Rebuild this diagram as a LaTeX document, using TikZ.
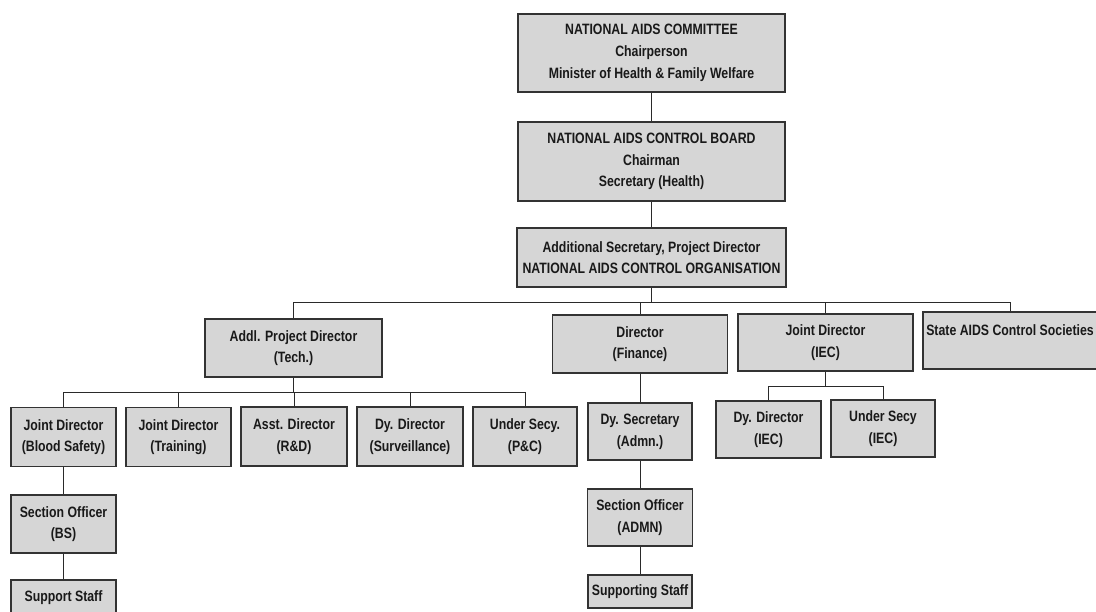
\documentclass[tikz,border=0pt]{standalone}
\usepackage{fontspec}
\setmainfont{Liberation Sans}[FakeStretch=0.82]
\definecolor{boxfill}{HTML}{D6D6D6}
\definecolor{boxline}{HTML}{333333}
\definecolor{linkcol}{HTML}{2A2A2A}
\tikzset{
  orgbox/.style={draw=boxline, line width=1.1pt, fill=boxfill, inner sep=0pt,
    align=center, font=\fontsize{15}{21.7}\selectfont\bfseries, text=black!90},
  link/.style={draw=linkcol, line width=0.9pt}
}
\begin{document}
\begin{tikzpicture}[x=1pt,y=-1pt]
\clip (0,0) rectangle (1096,611);
\fill[white] (0,0) rectangle (1096,611);
% top chain
\node[orgbox, minimum width=267, minimum height=78] (nac) at (651.5,53)
  {NATIONAL AIDS COMMITTEE\\Chairperson\\Minister of Health \& Family Welfare};
\node[orgbox, minimum width=267, minimum height=79] (nacb) at (651.5,161.5)
  {NATIONAL AIDS CONTROL BOARD\\Chairman\\Secretary (Health)};
\node[orgbox, minimum width=269, minimum height=59] (naco) at (651.5,257.5)
  {Additional Secretary, Project Director\\NATIONAL AIDS CONTROL ORGANISATION};
% second level
\node[orgbox, minimum width=177, minimum height=58] (apd) at (293.5,348)
  {Addl. Project Director\\(Tech.)};
\node[orgbox, minimum width=175, minimum height=58] (dfin) at (640,344)
  {Director\\(Finance)};
\node[orgbox, minimum width=175, minimum height=57] (jdiec) at (825.5,342.5)
  {Joint Director\\(IEC)};
\node[orgbox, minimum width=174, minimum height=57] (sacs) at (1010,340.5)
  {State AIDS Control Societies\\\mbox{}};
% APD children
\node[orgbox, minimum width=105, minimum height=59] (jdbs) at (63.5,437)
  {Joint Director\\(Blood Safety)};
\node[orgbox, minimum width=105, minimum height=59] (jdtr) at (178.5,437)
  {Joint Director\\(Training)};
\node[orgbox, minimum width=106, minimum height=59] (adrd) at (294,436.5)
  {Asst. Director\\(R\&D)};
\node[orgbox, minimum width=106, minimum height=59] (ddsv) at (410,436.5)
  {Dy. Director\\(Surveillance)};
\node[orgbox, minimum width=104, minimum height=59] (uspc) at (525,436.5)
  {Under Secy.\\(P\&C)};
\node[orgbox, minimum width=105, minimum height=58] (sobs) at (63.5,524)
  {Section Officer\\(BS)};
\node[orgbox, minimum width=105, minimum height=36] (sstaff) at (63.5,598)
  {Support Staff};
% finance chain
\node[orgbox, minimum width=104, minimum height=57] (dysec) at (640,431.5)
  {Dy. Secretary\\(Admn.)};
\node[orgbox, minimum width=105, minimum height=57] (soadmn) at (640,517.5)
  {Section Officer\\(ADMN)};
\node[orgbox, minimum width=104, minimum height=33] (supstaff) at (640,591.5)
  {Supporting Staff};
% IEC children
\node[orgbox, minimum width=105, minimum height=57] (ddiec) at (768.5,429.5)
  {Dy. Director\\(IEC)};
\node[orgbox, minimum width=104, minimum height=57] (usiec) at (883,428.5)
  {Under Secy\\(IEC)};
% bus coordinates
\coordinate (bus1) at (0,302);
\coordinate (bus2) at (0,392);
\coordinate (bus3) at (0,386);
% connectors
\draw[link] (nac.south) -- (nacb.north);
\draw[link] (nacb.south) -- (naco.north);
\draw[link] (naco.south) -- (naco.south |- bus1);
\draw[link] (apd.north |- bus1) -- (sacs.north |- bus1);
\foreach \n in {apd,dfin,jdiec,sacs}
  \draw[link] (\n.north) -- (\n.north |- bus1);
\draw[link] (apd.south) -- (apd.south |- bus2);
\draw[link] (jdbs.north |- bus2) -- (uspc.north |- bus2);
\foreach \n in {jdbs,jdtr,adrd,ddsv,uspc}
  \draw[link] (\n.north) -- (\n.north |- bus2);
\draw[link] (jdbs.south) -- (sobs.north);
\draw[link] (sobs.south) -- (sstaff.north);
\draw[link] (dfin.south) -- (dysec.north);
\draw[link] (dysec.south) -- (soadmn.north);
\draw[link] (soadmn.south) -- (supstaff.north);
\draw[link] (jdiec.south) -- (jdiec.south |- bus3);
\draw[link] (ddiec.north |- bus3) -- (usiec.north |- bus3);
\foreach \n in {ddiec,usiec}
  \draw[link] (\n.north) -- (\n.north |- bus3);
\end{tikzpicture}
\end{document}
